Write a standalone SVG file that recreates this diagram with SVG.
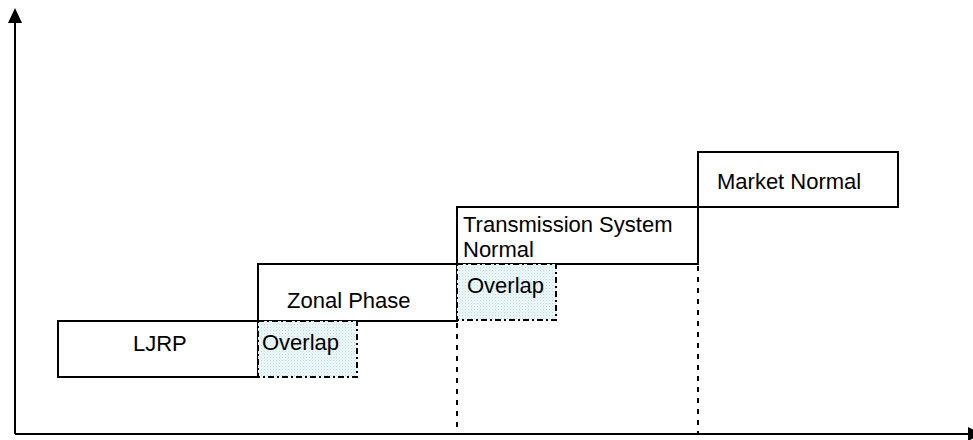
<svg xmlns="http://www.w3.org/2000/svg" width="973" height="440" viewBox="0 0 973 440">
  <style>
    .box { fill: #ffffff; stroke: #000000; stroke-width: 2; }
    .ovl { fill: url(#dots); stroke: #000000; stroke-width: 2; stroke-dasharray: 6 3 2 3; }
    .lbl { font-family: "Liberation Sans", Arial, sans-serif; font-size: 22px; fill: #000000; }
    .axis { stroke: #000000; stroke-width: 2; fill: none; }
    .guide { stroke: #000000; stroke-width: 2; stroke-dasharray: 5 6; fill: none; }
  </style>
  <defs>
    <pattern id="dots" width="3" height="3" patternUnits="userSpaceOnUse">
      <rect width="3" height="3" fill="#eef8f9"/>
      <rect width="1" height="1" fill="#b9dde3"/>
      <rect x="1.5" y="1.5" width="1" height="1" fill="#cfe8ec"/>
    </pattern>
  </defs>
  <rect width="973" height="440" fill="#ffffff"/>

  <g id="connectors">
    <line class="axis" x1="15" y1="20" x2="15" y2="434"/>
    <polygon points="15,8 8,23 22,23" fill="#000000"/>
    <line class="axis" x1="15" y1="434" x2="970" y2="434"/>
    <polygon points="968,427 968,441 982,434" fill="#000000"/>
    <line class="guide" x1="457" y1="323" x2="457" y2="433"/>
    <line class="guide" x1="698" y1="266" x2="698" y2="433"/>
  </g>

  <g id="ljrp">
    <rect class="box" x="58" y="321" width="200" height="56"/>
    <text class="lbl" x="133" y="351">LJRP</text>
  </g>

  <g id="zonal-phase">
    <rect class="box" x="258" y="264" width="199" height="57"/>
    <text class="lbl" x="287" y="308">Zonal Phase</text>
  </g>

  <g id="transmission-system-normal">
    <rect class="box" x="457" y="207" width="241" height="57"/>
    <text class="lbl" x="463" y="232">Transmission System</text>
    <text class="lbl" x="463" y="257">Normal</text>
  </g>

  <g id="market-normal">
    <rect class="box" x="698" y="152" width="200" height="55"/>
    <text class="lbl" x="717" y="189">Market Normal</text>
  </g>

  <g id="overlap-1">
    <rect class="ovl" x="258" y="321" width="99" height="56"/>
    <text class="lbl" x="262" y="350">Overlap</text>
  </g>

  <g id="overlap-2">
    <rect class="ovl" x="457" y="264" width="99" height="56"/>
    <text class="lbl" x="467" y="293">Overlap</text>
  </g>
</svg>
